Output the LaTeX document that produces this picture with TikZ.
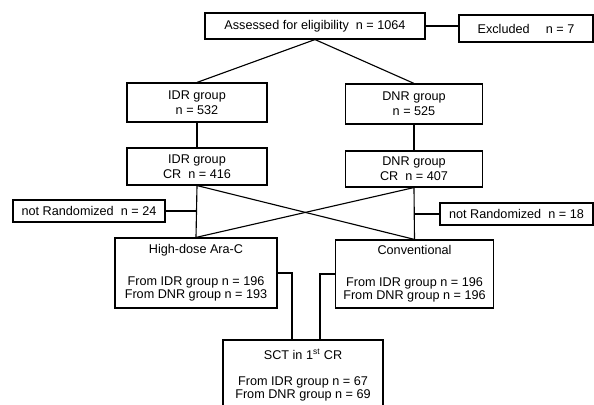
\documentclass[tikz,border=0pt]{standalone}
\usepackage{fontspec}
\setmainfont{Liberation Sans}

\begin{document}
\begin{tikzpicture}[x=0.025cm,y=-0.025cm,nodes=draw,line width=0.8pt,
  font=\fontsize{9}{10.5}\selectfont]
\tikzstyle{box}=[rectangle,align=center,inner sep=2pt]
\useasboundingbox (0,0) rectangle (594,405);

\node[box,minimum width=5.5cm,minimum height=0.65cm] (assess) at (315,26) {Assessed for eligibility\ \ n = 1064};
\node[box,minimum width=3.35cm,minimum height=0.675cm] (excl) at (526,28.5) {Excluded\quad\ n = 7};

\node[box,minimum width=3.5cm,minimum height=0.975cm] (idr) at (197,102.5) {IDR group\\n = 532};
\node[box,minimum width=3.425cm,minimum height=1cm] (dnr) at (414,104) {DNR group\\n = 525};

\node[box,minimum width=3.5cm,minimum height=0.925cm] (idrcr) at (197,166.5) {IDR group\\CR\ \ n = 416};
\node[box,minimum width=3.425cm,minimum height=0.9cm] (dnrcr) at (414,169) {DNR group\\CR\ \ n = 407};

\node[box,minimum width=3.8cm,minimum height=0.55cm] (nrl) at (89,211) {not Randomized\ \ n = 24};
\node[box,minimum width=3.825cm,minimum height=0.55cm] (nrr) at (516.5,214) {not Randomized\ \ n = 18};

\node[box,minimum width=4.05cm,minimum height=1.75cm] (hd) at (196,273) {High-dose Ara-C\\[12pt]From IDR group n = 196\\[-1.2pt]From DNR group n = 193};
\node[box,minimum width=3.95cm,minimum height=1.7cm] (conv) at (414.5,274) {Conventional\\[12pt]From IDR group n = 196\\[-1.2pt]From DNR group n = 196};

\node[box,minimum width=4cm,minimum height=1.75cm] (sct) at (303,375) {SCT in 1\textsuperscript{st} CR\\[8pt]From IDR group n = 67\\[-1.2pt]From DNR group n = 69};

\draw (assess.east) -- (assess.east -| excl.west);
\draw (idr.north) -- (assess.south) -- (dnr.north);
\draw (idr) -- (idrcr);
\draw (dnr) -- (dnrcr);
\draw (idrcr.south) -- (hd.north);
\draw (dnrcr.south) -- (conv.north);
\draw (idrcr.south) -- (conv.north);
\draw (dnrcr.south) -- (hd.north);
\draw (nrl.east) -- (nrl.east -| idrcr.south);
\draw (nrr.west) -- (nrr.west -| dnrcr.south);
\draw (hd.east) -| ([xshift=-0.275cm]sct.north);
\draw (conv.west) -| ([xshift=0.425cm]sct.north);
\end{tikzpicture}
\end{document}
